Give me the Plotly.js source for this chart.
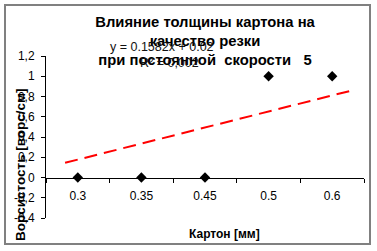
<!DOCTYPE html>
<html>
<head>
<meta charset="utf-8">
<script src="https://cdn.plot.ly/plotly-3.0.1.min.js"></script>
<style>html,body{margin:0;padding:0;background:#fff}#chart{width:377px;height:251px}</style>
</head>
<body>
<div id="chart"></div>
<script>
// Data
var categories = ["0.3", "0.35", "0.45", "0.5", "0.6"];
var values = [0, 0, 0, 1, 1];
// Linear trendline (Excel index x = 1..5), endpoints
var trendX = [0.8, 5.3];
var trendY = [0.145, 0.858];
var trendEquation = "y = 0.1582x + 0.02";
var trendR2 = "R² = 0,002";
var yTickVals = [-0.4, -0.2, 0, 0.2, 0.4, 0.6, 0.8, 1, 1.2];
var yTickText = ["-0,4", "-0,2", "0", "0,2", "0,4", "0,6", "0,8", "1", "1,2"];
var titleLines = ["Влияние толщины картона на", "качество резки", "при постоянной  скорости   5"];
var xTitle = "Картон [мм]";
var yTitle = "Ворсистость [ворс/см]";

var W = 377, H = 251;
var m = {l: 46, r: 13, t: 56, b: 33};
var pw = W - m.l - m.r, ph = H - m.t - m.b;
function px(x) { return (x - m.l) / pw; }
function py(y) { return (H - m.b - y) / ph; }

var FONT = "Liberation Sans, Arial, sans-serif";

var traces = [
  {
    x: categories, y: values, type: "scatter", mode: "markers",
    xaxis: "x", yaxis: "y",
    marker: {symbol: "diamond", size: 8, color: "#000"},
    cliponaxis: false, hoverinfo: "skip"
  },
  {
    x: trendX, y: trendY, type: "scatter", mode: "lines",
    xaxis: "x2", yaxis: "y",
    line: {color: "#ff0000", width: 2, dash: "13px,7px"},
    hoverinfo: "skip"
  }
];

var layout = {
  width: W, height: H,
  margin: m,
  paper_bgcolor: "#fff", plot_bgcolor: "#fff",
  showlegend: false,
  font: {family: FONT, size: 12, color: "#000"},
  title: {
    text: "<b>" + titleLines.join("<br>") + "</b>",
    font: {family: FONT, size: 14.8, color: "#000"},
    x: 205 / W, xanchor: "center", xref: "container",
    y: 1 - 27 / H, yanchor: "top", yref: "container"
  },
  xaxis: {
    type: "category",
    range: [-0.5, 4.5],
    anchor: "free", position: 0.25,
    showline: true, linecolor: "#000", linewidth: 1,
    ticks: "outside", ticklen: 4, tickcolor: "#000", tickson: "boundaries",
    ticklabelstandoff: 7,
    showgrid: false, zeroline: false,
    tickfont: {family: FONT, size: 12, color: "#000"},
    fixedrange: true
  },
  xaxis2: {
    overlaying: "x", range: [0.5, 5.5], visible: false, fixedrange: true
  },
  yaxis: {
    range: [-0.4, 1.2],
    tickvals: yTickVals, ticktext: yTickText,
    showline: true, linecolor: "#000", linewidth: 1,
    ticks: "outside", ticklen: 4, tickcolor: "#000",
    ticklabelstandoff: 4,
    showgrid: false, zeroline: false,
    tickfont: {family: FONT, size: 12, color: "#000"},
    fixedrange: true
  },
  annotations: [
    {text: trendEquation, xref: "paper", yref: "paper", x: px(162), y: py(47),
     xanchor: "center", yanchor: "middle", showarrow: false,
     font: {family: FONT, size: 12.5, color: "#111"}},
    {text: trendR2, xref: "paper", yref: "paper", x: px(169), y: py(63),
     xanchor: "center", yanchor: "middle", showarrow: false,
     font: {family: FONT, size: 12.5, color: "#111"}},
    {text: "<b>" + xTitle + "</b>", xref: "paper", yref: "paper", x: px(224), y: py(234),
     xanchor: "center", yanchor: "middle", showarrow: false,
     font: {family: FONT, size: 12, color: "#000"}},
    {text: "<b>" + yTitle + "</b>", xref: "paper", yref: "paper", x: px(20), y: py(165),
     xanchor: "center", yanchor: "middle", showarrow: false, textangle: -90,
     font: {family: FONT, size: 13.5, color: "#000"}}
  ],
  shapes: [
    {type: "rect", xref: "paper", yref: "paper",
     x0: px(5), x1: px(370), y0: py(244), y1: py(5),
     line: {color: "#808080", width: 2}, fillcolor: "rgba(0,0,0,0)", layer: "below"}
  ]
};

Plotly.newPlot("chart", traces, layout, {staticPlot: true, displayModeBar: false});
</script>
</body>
</html>
